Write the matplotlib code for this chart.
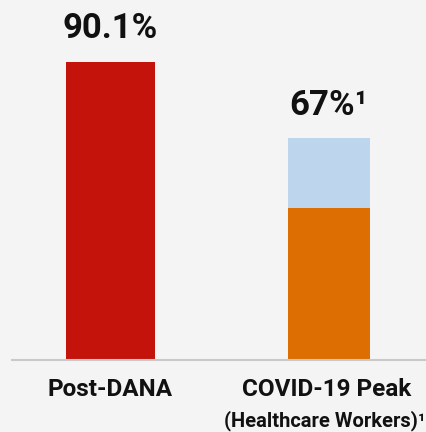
import matplotlib
matplotlib.use('Agg')
import matplotlib.pyplot as plt

categories = ['Post-DANA', 'COVID-19 Peak']
sublabels = ['', '(Healthcare Workers)\u00b9']
base_values = [90.1, 46]      # red bar / orange lower part
top_values = [0, 21]          # light blue upper part
value_labels = ['90.1%', '67%\u00b9']

bg = '#f4f4f4'
base_colors = ['#c3130b', '#dc6e02']
top_color = '#bdd6ee'
bar_widths = [0.407, 0.375]

plt.rcParams['font.family'] = ['Roboto', 'DejaVu Sans']

fig = plt.figure(figsize=(4.26, 4.32), dpi=100, facecolor=bg)
ax = fig.add_axes([12 / 426, 72 / 432, 414 / 426, 330.7 / 432])
ax.set_facecolor(bg)

x = list(range(len(categories)))
ax.bar(x, base_values, width=bar_widths, color=base_colors)
ax.bar(x, top_values, width=bar_widths, bottom=base_values, color=top_color)

ax.set_xlim(-0.451, 1.444)
ax.set_ylim(0, 100)

for i in x:
    total = base_values[i] + top_values[i]
    ax.annotate(value_labels[i], (i, total), xytext=(0, 12), textcoords='offset points',
                ha='center', va='bottom', fontsize=25, fontweight='bold', color='#111111')
    ax.annotate(categories[i], (i, 0), xytext=(-2 * i, -13), textcoords='offset points',
                ha='center', va='top', fontsize=17.5, fontweight='bold', color='#111111',
                annotation_clip=False)
    if sublabels[i]:
        ax.annotate(sublabels[i], (i, 0), xytext=(-3, -36), textcoords='offset points',
                    ha='center', va='top', fontsize=14.5, fontweight='bold', color='#111111',
                    annotation_clip=False)

for s in ['top', 'right', 'left']:
    ax.spines[s].set_visible(False)
ax.spines['bottom'].set_color('#c9c9c9')
ax.spines['bottom'].set_linewidth(1.5)
ax.set_xticks([])
ax.set_yticks([])

fig.savefig('out.png', dpi=100, facecolor=bg)
